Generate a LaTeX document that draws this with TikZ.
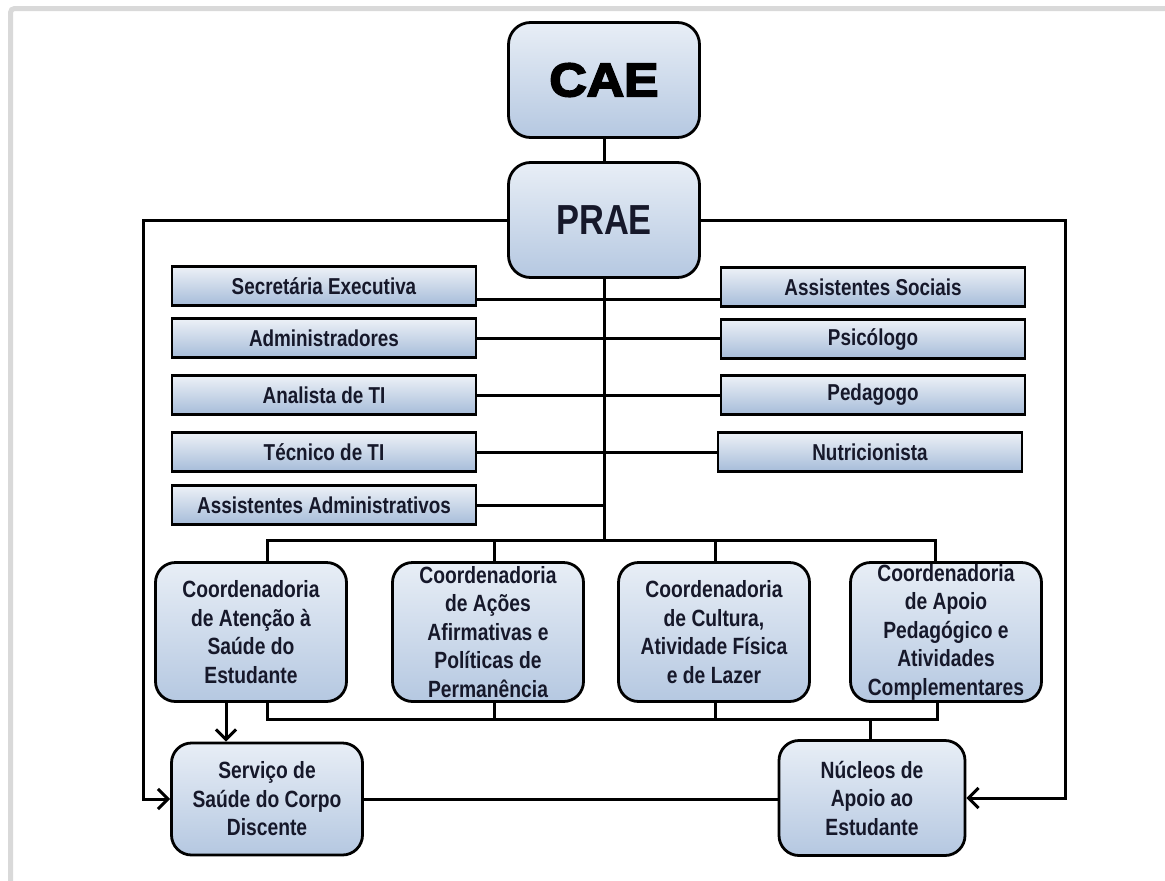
\documentclass[tikz,border=0pt]{standalone}
\usepackage{fontspec}
\setmainfont{Liberation Sans}[FakeStretch=0.82]
\newfontfamily\heavyfont{Liberation Sans}[FakeStretch=1.1, BoldFeatures={FakeBold=4}]
\usepackage{tikz}
\usetikzlibrary{arrows.meta,positioning,calc}

\definecolor{txt}{HTML}{16182A}
\definecolor{boxtop}{HTML}{EDF1F7}
\definecolor{boxbot}{HTML}{A6BCD9}
\definecolor{unittop}{HTML}{E8EEF6}
\definecolor{unitbot}{HTML}{B5C8E1}
\definecolor{framegray}{HTML}{D9D9D9}

\tikzset{
    base/.style={draw=black, line width=2.8pt, text=txt, align=center, inner sep=0pt},
    role/.style={base, rectangle, minimum width=304pt, minimum height=39pt,
                 top color=boxtop, bottom color=boxbot,
                 font=\bfseries\fontsize{23}{27}\selectfont},
    hub/.style={base, rounded corners=22pt, minimum width=191pt, minimum height=115pt,
                top color=unittop, bottom color=unitbot},
    unit/.style={base, rounded corners=20pt, minimum width=191pt, minimum height=139pt,
                 top color=unittop, bottom color=unitbot,
                 font=\bfseries\fontsize{23.5}{28.5}\selectfont},
    link/.style={line width=3pt},
    arr/.style={link, -{Straight Barb[length=10pt,width=20pt]}},
}

\begin{document}
\begin{tikzpicture}[x=1pt, y=-1pt]
    \useasboundingbox (0,0) rectangle (1165,881);
    \draw[framegray, line width=5pt, rounded corners=4pt]
        (10.5,881) -- (10.5,8.5) -- (1165,8.5);

    % Top -------------------------------------------------------------
    \node[hub, text=black, font=\heavyfont\bfseries\fontsize{47}{50}\selectfont]
        (cae) at (604,80) {CAE};
    \node[hub, font=\bfseries\fontsize{42}{46}\selectfont]
        (prae) at (604,220) {PRAE};

    % Staff -----------------------------------------------------------
    \node[role] (sec) at (324,286) {Secretária Executiva};
    \node[role] (adm) at (324,338) {Administradores};
    \node[role] (ana) at (324,395) {Analista de TI};
    \node[role] (tec) at (324,452) {Técnico de TI};
    \node[role] (asa) at (324,505) {Assistentes Administrativos};
    \node[role] (soc) at (873,287) {Assistentes Sociais};
    \node[role] (psi) at (873,339) {Psicólogo};
    \node[role] (ped) at (873,395) {Pedagogo};
    \node[role] (nut) at (870,452) {Nutricionista};

    % Coordenadorias --------------------------------------------------
    \node[unit] (c1) at (251,632) {Coordenadoria\\de Atenção à\\Saúde do\\Estudante};
    \node[unit] (c2) at (488,632) {Coordenadoria\\de Ações\\Afirmativas e\\Políticas de\\Permanência};
    \node[unit] (c3) at (714,632) {Coordenadoria\\de Cultura,\\Atividade Física\\e de Lazer};
    \node[unit] (c4) at (946,632) {Coordenadoria\\de Apoio\\Pedagógico e\\Atividades\\Complementares};

    \node[unit, minimum height=112pt] (servico) at (267,799) {Serviço de\\Saúde do Corpo\\Discente};
    \node[unit, minimum width=186pt, minimum height=115pt] (nucleos) at (872,798) {Núcleos de\\Apoio ao\\Estudante};

    % Connectors ------------------------------------------------------
    \coordinate (lft) at (143,220);
    \coordinate (rgt) at (1065,220);
    \coordinate (tb) at (604,540);
    \coordinate (bb) at (604,719);

    \draw[link] (cae) -- (prae);
    \draw[arr] (prae.west) -- (lft) |- (servico.west);
    \draw[arr] (prae.east) -- (rgt) |- (nucleos.east);
    \draw[link] (prae.south) -- (tb);

    \draw[link] ([yshift=-13pt]sec.east) -- ([yshift=-13pt]sec.east -| soc.west);
    \draw[link] (adm.east) -- (adm.east -| psi.west);
    \draw[link] (ana.east) -- (ana.east -| ped.west);
    \draw[link] (tec.east) -- (tec.east -| nut.west);
    \draw[link] (asa.east) -- (asa.east -| tb);

    \draw[link] ([xshift=16pt]c1.north) |- (tb) -| ([xshift=-11pt]c4.north);
    \draw[link] ([xshift=6pt]c2.north) -- ([xshift=6pt]c2.north |- tb);
    \draw[link] ([xshift=1pt]c3.north) -- ([xshift=1pt]c3.north |- tb);

    \draw[link] ([xshift=16pt]c1.south) |- (bb) -| ([xshift=-9pt]c4.south);
    \draw[link] ([xshift=6pt]c2.south) -- ([xshift=6pt]c2.south |- bb);
    \draw[link] ([xshift=1pt]c3.south) -- ([xshift=1pt]c3.south |- bb);
    \draw[link] ([xshift=-2pt]nucleos.north) -- ([xshift=-2pt]nucleos.north |- bb);

    \draw[arr] ([xshift=-25pt]c1.south) -- ([xshift=-25pt]c1.south |- servico.north);
    \draw[link] (servico.east) -- (servico.east -| nucleos.west);
\end{tikzpicture}
\end{document}
